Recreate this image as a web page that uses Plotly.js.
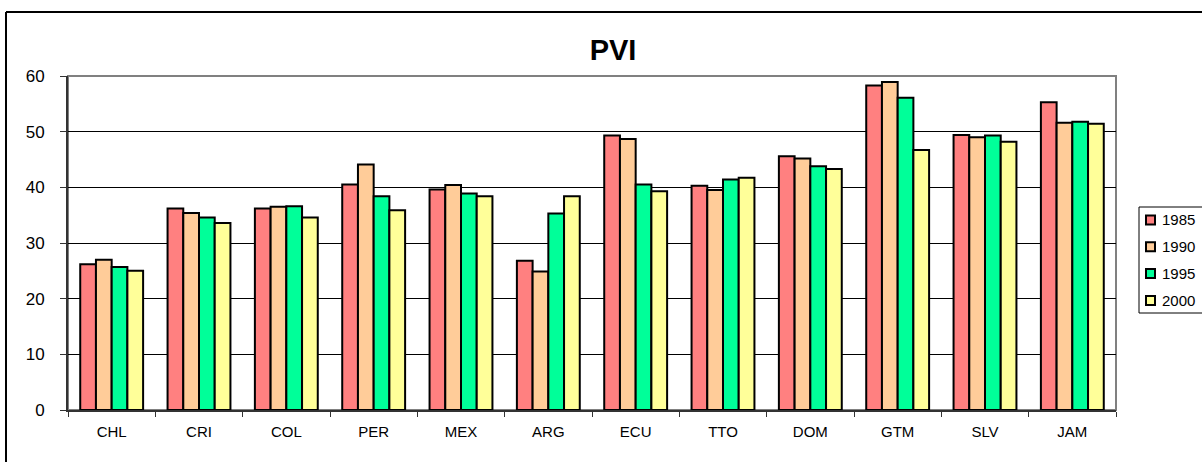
<!DOCTYPE html>
<html>
<head>
<meta charset="utf-8">
<script src="https://cdn.plot.ly/plotly-3.0.1.min.js"></script>
<style>
html,body{margin:0;padding:0;background:#fff;}
#chart{width:1202px;height:462px;}
</style>
</head>
<body>
<div id="chart"></div>
<script>
const categories = ["CHL","CRI","COL","PER","MEX","ARG","ECU","TTO","DOM","GTM","SLV","JAM"];
const seriesNames = ["1985","1990","1995","2000"];
const v1985 = [26.2, 36.2, 36.2, 40.5, 39.6, 26.8, 49.3, 40.3, 45.6, 58.3, 49.4, 55.3];
const v1990 = [27.0, 35.4, 36.5, 44.1, 40.4, 24.9, 48.7, 39.5, 45.2, 58.9, 49.0, 51.6];
const v1995 = [25.7, 34.6, 36.6, 38.4, 38.9, 35.3, 40.5, 41.4, 43.8, 56.1, 49.3, 51.8];
const v2000 = [25.0, 33.6, 34.6, 35.9, 38.4, 38.4, 39.3, 41.7, 43.3, 46.7, 48.2, 51.4];
const yTicks = [0, 10, 20, 30, 40, 50, 60];

const seriesValues = [v1985, v1990, v1995, v2000];
const colors = ["#FF8080", "#FFCC99", "#00FF99", "#FFFF99"];

const traces = seriesNames.map((name, i) => ({
  type: "bar",
  name: name,
  x: categories,
  y: seriesValues[i],
  marker: {color: colors[i], line: {color: "#000", width: 2}},
  hoverinfo: "x+y+name",
  showlegend: false
}));

const L = 68, R = 1116, T = 76, B = 410, W = 1202, H = 462;
const px = x => (x - L) / (R - L);
const py = y => (B - y) / (B - T);

// custom legend placement (pixels)
const legLeft = 1139, legTop = 207, legBottom = 313, legRight = 1215;
const itemY0 = 220, itemStep = 26.8, symX0 = 1146, symSize = 9, textX = 1160;

const shapes = [
  {type: "rect", xref: "paper", yref: "paper", x0: 0, x1: 1, y0: 0, y1: 1,
   line: {color: "#808080", width: 2}, layer: "below"},
  {type: "line", xref: "paper", yref: "paper", x0: px(6), x1: px(1210), y0: py(12), y1: py(12),
   line: {color: "#000", width: 2}},
  {type: "line", xref: "paper", yref: "paper", x0: px(6), x1: px(6), y0: py(12), y1: py(470),
   line: {color: "#000", width: 2}},
  {type: "rect", xref: "paper", yref: "paper", x0: px(legLeft), x1: px(legRight), y0: py(legBottom), y1: py(legTop),
   line: {color: "#000", width: 1}, fillcolor: "#fff"}
];
const annotations = [];
seriesNames.forEach((name, i) => {
  const cy = itemY0 + i * itemStep;
  shapes.push({type: "rect", xref: "paper", yref: "paper",
    x0: px(symX0), x1: px(symX0 + symSize), y0: py(cy + symSize / 2), y1: py(cy - symSize / 2),
    line: {color: "#000", width: 2}, fillcolor: colors[i]});
  annotations.push({xref: "paper", yref: "paper", x: px(textX), y: py(cy),
    xanchor: "left", yanchor: "middle", showarrow: false, text: name,
    font: {size: 15, color: "#000"}});
});

const layout = {
  width: W, height: H,
  margin: {l: L, r: W - R, t: T, b: H - B, autoexpand: false},
  paper_bgcolor: "#fff",
  plot_bgcolor: "#fff",
  font: {family: "Arial, 'Liberation Sans', sans-serif", color: "#000"},
  title: {
    text: "<b>PVI</b>",
    font: {size: 29, color: "#000"},
    x: 0.51, xanchor: "center",
    y: 1 - 50 / H, yanchor: "middle", yref: "container"
  },
  bargap: 0.28,
  bargroupgap: 0,
  barmode: "group",
  showlegend: false,
  xaxis: {
    type: "category",
    showgrid: false,
    showline: true, linecolor: "#333", linewidth: 2,
    ticks: "outside", ticklen: 5, tickcolor: "#333", tickwidth: 1,
    tickson: "boundaries",
    tickfont: {size: 15, color: "#000"},
    ticklabelstandoff: 7,
    zeroline: false
  },
  yaxis: {
    range: [0, 60],
    tickvals: yTicks,
    ticktext: yTicks.map(String),
    showgrid: true, gridcolor: "#000", gridwidth: 1,
    showline: true, linecolor: "#333", linewidth: 2,
    ticks: "outside", ticklen: 6, tickcolor: "#333", tickwidth: 1,
    tickfont: {size: 17, color: "#000"},
    ticklabelstandoff: 12,
    zeroline: false
  },
  shapes: shapes,
  annotations: annotations
};

Plotly.newPlot("chart", traces, layout, {displayModeBar: false, staticPlot: true});
</script>
</body>
</html>
